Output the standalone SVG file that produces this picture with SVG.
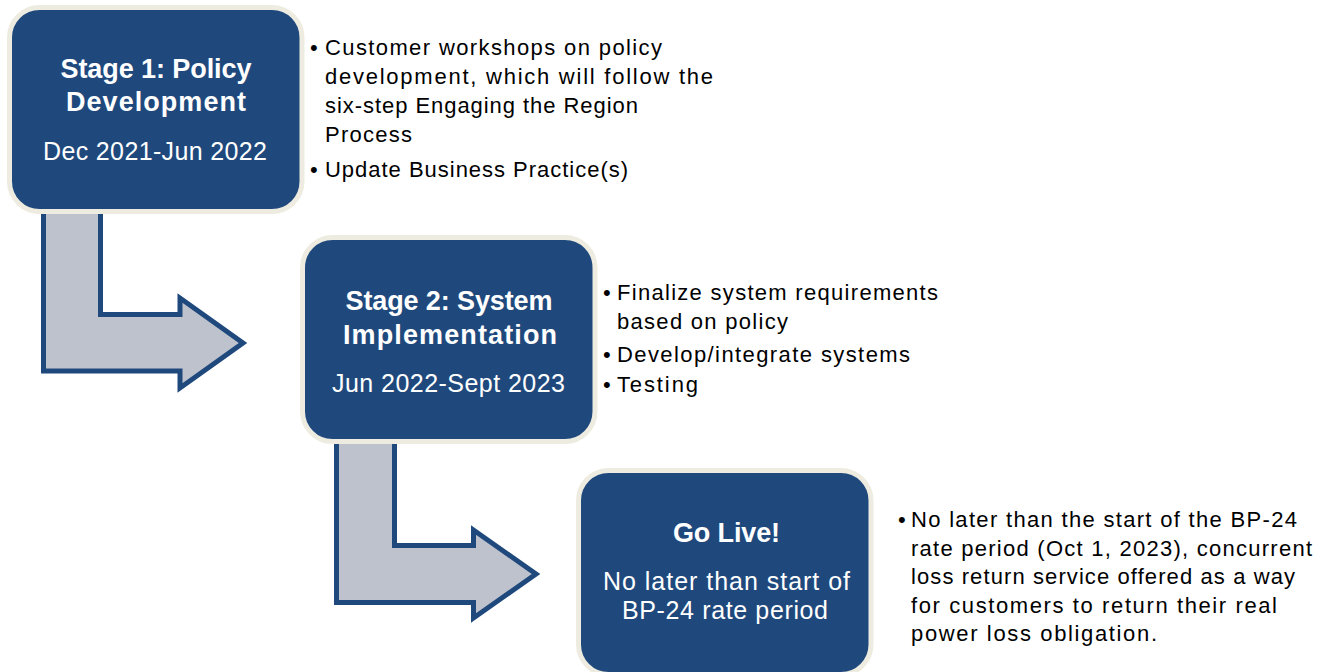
<svg xmlns="http://www.w3.org/2000/svg" width="1322" height="672" viewBox="0 0 1322 672">
<style>
.box{fill:#1F497D;stroke:#EEECE1;stroke-width:5}
.arrow{fill:#BEC2CC;stroke:#1F497D;stroke-width:5;stroke-linejoin:miter}
.t{font-family:"Liberation Sans",Arial,sans-serif;fill:#FFFFFF;text-anchor:middle}
.tb{font-size:27px;font-weight:bold}
.ts{font-size:25px}
.b{font-family:"Liberation Sans",Arial,sans-serif;font-size:22px;fill:#000000}
</style>
<rect width="1322" height="672" fill="#FFFFFF"/>
<g id="connectors">
<path class="arrow" d="M43.5,205 V371 H180 V388 L243,343 L180,298 V314.5 H100.5 V205 Z"/>
<path class="arrow" d="M336.5,435 V602.5 H473.5 V618 L536,574 L473.5,530 V545.5 H394.5 V435 Z"/>
</g>
<g id="stage1">
<rect class="box" x="9.5" y="7.5" width="292.5" height="204" rx="30" ry="30"/>
<text class="t tb" x="156" y="78" textLength="191" lengthAdjust="spacing">Stage 1: Policy</text>
<text class="t tb" x="156" y="111" textLength="180" lengthAdjust="spacing">Development</text>
<text class="t ts" x="155" y="160" textLength="224" lengthAdjust="spacing">Dec 2021-Jun 2022</text>
</g>
<g id="stage1-notes">
<text class="b" x="310" y="55">•</text>
<text class="b" x="325" y="55" textLength="337" lengthAdjust="spacing">Customer workshops on policy</text>
<text class="b" x="325" y="84" textLength="388" lengthAdjust="spacing">development, which will follow the</text>
<text class="b" x="325" y="113" textLength="313" lengthAdjust="spacing">six-step Engaging the Region</text>
<text class="b" x="325" y="142" textLength="87" lengthAdjust="spacing">Process</text>
<text class="b" x="310" y="177">•</text>
<text class="b" x="325" y="177" textLength="303" lengthAdjust="spacing">Update Business Practice(s)</text>
</g>
<g id="stage2">
<rect class="box" x="302.5" y="237.5" width="292.5" height="204" rx="30" ry="30"/>
<text class="t tb" x="449" y="310" textLength="207" lengthAdjust="spacing">Stage 2: System</text>
<text class="t tb" x="450" y="344" textLength="214" lengthAdjust="spacing">Implementation</text>
<text class="t ts" x="448.5" y="392" textLength="233" lengthAdjust="spacing">Jun 2022-Sept 2023</text>
</g>
<g id="stage2-notes">
<text class="b" x="603" y="300">•</text>
<text class="b" x="617" y="300" textLength="321" lengthAdjust="spacing">Finalize system requirements</text>
<text class="b" x="617" y="329" textLength="171" lengthAdjust="spacing">based on policy</text>
<text class="b" x="603" y="362">•</text>
<text class="b" x="617" y="362" textLength="293" lengthAdjust="spacing">Develop/integrate systems</text>
<text class="b" x="603" y="392">•</text>
<text class="b" x="617" y="392" textLength="81" lengthAdjust="spacing">Testing</text>
</g>
<g id="golive">
<rect class="box" x="578.5" y="470.5" width="292.5" height="204" rx="30" ry="30"/>
<text class="t tb" x="726.5" y="542" textLength="107" lengthAdjust="spacing">Go Live!</text>
<text class="t ts" x="726.5" y="590" textLength="247" lengthAdjust="spacing">No later than start of</text>
<text class="t ts" x="725" y="619" textLength="206" lengthAdjust="spacing">BP-24 rate period</text>
</g>
<g id="golive-notes">
<text class="b" x="898" y="527">•</text>
<text class="b" x="911" y="527" textLength="386" lengthAdjust="spacing">No later than the start of the BP-24</text>
<text class="b" x="911" y="555.5" textLength="401" lengthAdjust="spacing">rate period (Oct 1, 2023), concurrent</text>
<text class="b" x="911" y="584" textLength="384" lengthAdjust="spacing">loss return service offered as a way</text>
<text class="b" x="911" y="612.5" textLength="366" lengthAdjust="spacing">for customers to return their real</text>
<text class="b" x="911" y="641" textLength="246" lengthAdjust="spacing">power loss obligation.</text>
</g>
</svg>
